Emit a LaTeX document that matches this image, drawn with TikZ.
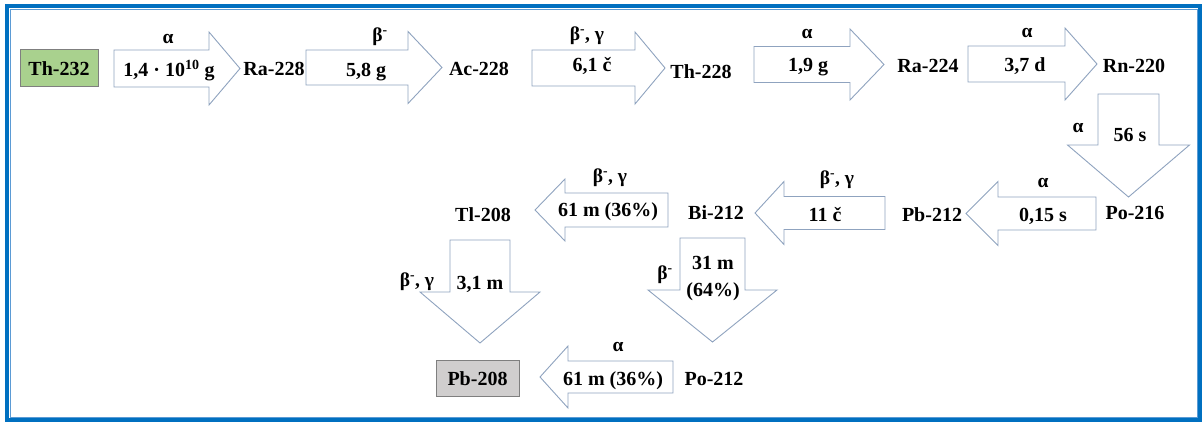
\documentclass[tikz,border=0pt]{standalone}
\usepackage{fontspec}
\setmainfont{Liberation Serif}
\definecolor{framemain}{HTML}{0070C0}
\definecolor{framelight}{HTML}{5B9BD5}
\definecolor{arrowline}{HTML}{8FA3BF}
\definecolor{startfill}{HTML}{A9D18E}
\definecolor{endfill}{HTML}{D0CECE}
\definecolor{boxline}{HTML}{7F7F7F}

% horizontal block arrow: tail x, head base x, tip x, centre y, body half, head half
\newcommand\hblock[6]{%
  \draw[blockarrow] (#1,#4-#5) -- (#2,#4-#5) -- (#2,#4-#6) -- (#3,#4)
    -- (#2,#4+#6) -- (#2,#4+#5) -- (#1,#4+#5) -- cycle;}
% vertical block arrow: centre x, tail y, head base y, tip y, body half, head half
\newcommand\vblock[6]{%
  \draw[blockarrow] (#1-#5,#2) -- (#1-#5,#3) -- (#1-#6,#3) -- (#1,#4)
    -- (#1+#6,#3) -- (#1+#5,#3) -- (#1+#5,#2) -- cycle;}

\begin{document}
\begin{tikzpicture}[x=1pt,y=-1pt,
  blockarrow/.style={draw=arrowline,line width=0.9pt,fill=white,line join=miter},
  nuclide/.style={font=\fontsize{20}{24}\selectfont\bfseries,inner sep=0pt,anchor=base},
  halflife/.style={font=\fontsize{20}{24}\selectfont\bfseries,inner sep=0pt,anchor=base},
  decay/.style={font=\fontsize{19.5}{23}\selectfont\bfseries,inner sep=0pt},
  endbox/.style={draw=boxline,line width=1pt,font=\fontsize{20}{24}\selectfont\bfseries,
    text height=14pt,text depth=0pt,inner sep=0pt}]
\useasboundingbox (0,0) rectangle (1202,422);

% double frame
\draw[framemain,line width=4pt] (7,6) rectangle (1200,420);
\draw[framelight,line width=1pt] (10.7,9.5) rectangle (1197,417.5);

% block arrows, top row
\hblock{114}{209}{240}{68.5}{18.5}{36.5}
\hblock{306}{408}{442}{67.5}{17.5}{36}
\hblock{532}{635}{665}{68}{18}{36}
\hblock{754}{850}{884}{64.5}{18}{35.5}
\hblock{968}{1065}{1097}{64}{18}{36}
% down from Rn-220
\vblock{1128.5}{94}{145}{197}{30.5}{61}
% middle row, leftwards
\hblock{1096}{998}{966}{213.5}{16.5}{32}
\hblock{885}{784}{755}{213}{16.5}{31.5}
\hblock{668}{565}{535}{210}{17}{31}
% down branches
\vblock{480}{240}{292}{343}{30}{60}
\vblock{712.5}{238}{290}{342}{32.5}{64.5}
% bottom row
\hblock{673}{568}{540}{377}{16}{31}

% nuclides
\node[endbox,fill=startfill,minimum width=78pt,minimum height=37pt] (th232) at (59,68.5) {Th-232};
\node[nuclide] (ra228) at (274,76) {Ra-228};
\node[nuclide] (ac228) at (479,76) {Ac-228};
\node[nuclide] (th228) at (701,79) {Th-228};
\node[nuclide] (ra224) at (928,73) {Ra-224};
\node[nuclide] (rn220) at (1134,73) {Rn-220};
\node[nuclide] (po216) at (1135,220) {Po-216};
\node[nuclide] (pb212) at (932,222) {Pb-212};
\node[nuclide] (bi212) at (716,220) {Bi-212};
\node[nuclide] (tl208) at (483,222) {Tl-208};
\node[nuclide] (po212) at (714,385) {Po-212};
\node[endbox,fill=endfill,minimum width=83pt,minimum height=36pt] (pb208) at (477.5,378) {Pb-208};

% half-lives
\node[halflife] (t1) at (169,77) {1,4 · 10\textsuperscript{10} g};
\node[halflife] (t2) at (366,77) {5,8 g};
\node[halflife] (t3) at (592,72) {6,1 č};
\node[halflife] (t4) at (808,72) {1,9 g};
\node[halflife] (t5) at (1025,72) {3,7 d};
\node[halflife] (t6) at (1130,142) {56 s};
\node[halflife] (t7) at (1043,222) {0,15 s};
\node[halflife] (t8) at (825,222) {11 č};
\node[halflife] (t9) at (608,217) {61 m (36\%)};
\node[halflife] (t10) at (480,289) {3,1 m};
\node[halflife,anchor=center,align=center,font=\fontsize{20}{27}\selectfont\bfseries] (t11) at (713,279) {31 m\\(64\%)};
\node[halflife] (t12) at (613,385) {61 m (36\%)};

% decay modes
\node[decay] (d1) at (168,39) {α};
\node[decay] (d2) at (380,37) {β\textsuperscript{-}};
\node[decay] (d3) at (587,36) {β\textsuperscript{-}, γ};
\node[decay] (d4) at (807,34) {α};
\node[decay] (d5) at (1027,33) {α};
\node[decay] (d6) at (1078,128) {α};
\node[decay] (d7) at (1043,183) {α};
\node[decay] (d8) at (837,180) {β\textsuperscript{-}, γ};
\node[decay] (d9) at (610,178) {β\textsuperscript{-}, γ};
\node[decay] (d10) at (417,282) {β\textsuperscript{-}, γ};
\node[decay] (d11) at (665,275) {β\textsuperscript{-}};
\node[decay] (d12) at (618,347) {α};
\end{tikzpicture}
\end{document}
